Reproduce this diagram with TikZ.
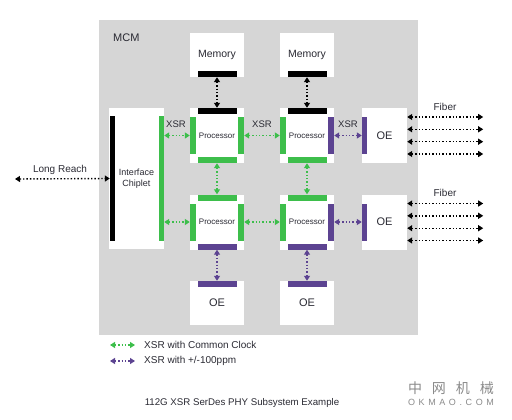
\documentclass[tikz,border=0pt]{standalone}
\usepackage{fontspec}
\setmainfont{Liberation Sans}
\newfontfamily\cjk{Noto Sans CJK SC}
\newfontfamily\wmfont[LetterSpace=40]{Liberation Sans}
\usepackage{tikz}
\usetikzlibrary{arrows.meta, calc, positioning}

\definecolor{xgreen}{HTML}{3DBE4B}
\definecolor{xpurple}{HTML}{5C4391}
\definecolor{mcmgray}{HTML}{D6D6D6}
\definecolor{txt}{HTML}{2A2A33}
\definecolor{wmgray}{HTML}{8A8A8A}

\tikzset{
  blk/.style={fill=white, inner sep=0pt, minimum width=54pt, minimum height=55pt, text=txt},
  hbar/.style={inner sep=0pt, minimum width=39pt, minimum height=6pt},
  vbar/.style={inner sep=0pt, minimum width=6pt, minimum height=37pt},
  link/.style={line width=1.4pt, dash pattern=on 1.4pt off 2pt,
    {Triangle[length=5pt,width=6pt]}-{Triangle[length=5pt,width=6pt]}},
  lbl/.style={text=txt, inner sep=0pt, font=\fontsize{9.5}{11}\selectfont},
}

\begin{document}
\begin{tikzpicture}[x=1pt,y=-1pt]
  \useasboundingbox (0,0) rectangle (512,420);
  %\draw [step=50] (0,0) grid (512,420);
  \fill[mcmgray] (99,20) rectangle (418,335);
  \node[lbl, anchor=west, font=\fontsize{11}{12}\selectfont] (mcm) at (113,38) {MCM};

  % memories
  \node[blk, minimum height=44pt, font=\fontsize{10.5}{12}\selectfont] (mem1) at (217,55) {Memory};
  \node[blk, minimum height=44pt, font=\fontsize{10.5}{12}\selectfont] (mem2) at (307,55) {Memory};
  \node[hbar, fill=black, anchor=south] (mem1b) at (mem1.south) {};
  \node[hbar, fill=black, anchor=south] (mem2b) at (mem2.south) {};

  % processors
  \node[blk, font=\fontsize{8}{9}\selectfont] (p11) at (217,135.5) {Processor};
  \node[blk, font=\fontsize{8}{9}\selectfont] (p12) at (307,135.5) {Processor};
  \node[blk, font=\fontsize{8}{9}\selectfont] (p21) at (217,222) {Processor};
  \node[blk, font=\fontsize{8}{9}\selectfont] (p22) at (307,222) {Processor};
  \foreach \p/\t/\l/\r/\b in {p11/black/xgreen/xgreen/xgreen, p12/black/xgreen/xpurple/xgreen,
                              p21/xgreen/xgreen/xgreen/xpurple, p22/xgreen/xgreen/xpurple/xpurple}{
    \node[hbar, fill=\t, anchor=north] (\p-t) at (\p.north) {};
    \node[hbar, fill=\b, anchor=south] (\p-b) at (\p.south) {};
    \node[vbar, fill=\l, anchor=west] (\p-l) at (\p.west) {};
    \node[vbar, fill=\r, anchor=east] (\p-r) at (\p.east) {};
  }

  % optical engines
  \node[blk, minimum width=45pt, font=\fontsize{11}{12}\selectfont] (oe1) at (384.5,135.5) {OE};
  \node[blk, minimum width=45pt, font=\fontsize{11}{12}\selectfont] (oe2) at (384.5,222) {OE};
  \node[vbar, fill=xpurple, minimum width=5pt, anchor=west] (oe1-l) at (oe1.west) {};
  \node[vbar, fill=xpurple, minimum width=5pt, anchor=west] (oe2-l) at (oe2.west) {};
  \node[blk, minimum height=44pt, font=\fontsize{11}{12}\selectfont] (oeb1) at (217,303) {OE};
  \node[blk, minimum height=44pt, font=\fontsize{11}{12}\selectfont] (oeb2) at (307,303) {OE};
  \node[hbar, fill=xpurple, anchor=north] (oeb1-t) at (oeb1.north) {};
  \node[hbar, fill=xpurple, anchor=north] (oeb2-t) at (oeb2.north) {};

  % interface chiplet
  \node[blk, minimum width=55pt, minimum height=141pt, align=center,
        font=\fontsize{9}{10.5}\selectfont] (ifc) at (136.5,178.5) {Interface\\Chiplet};
  \node[vbar, fill=black, minimum width=4.5pt, minimum height=124pt, anchor=west] (ifc-l) at ($(ifc.west)+(1,0)$) {};
  \node[vbar, fill=xgreen, minimum width=5.5pt, minimum height=124pt, anchor=east] (ifc-r) at (ifc.east) {};

  % links
  \draw[link, black] (mem1b.south) -- (p11-t.north);
  \draw[link, black] (mem2b.south) -- (p12-t.north);
  \draw[link, xgreen] (ifc-r.east |- p11-l) -- (p11-l.west);
  \draw[link, xgreen] (ifc-r.east |- p21-l) -- (p21-l.west);
  \draw[link, xgreen] (p11-r.east) -- (p12-l.west);
  \draw[link, xgreen] (p21-r.east) -- (p22-l.west);
  \draw[link, xgreen] (p11-b.south) -- (p21-t.north);
  \draw[link, xgreen] (p12-b.south) -- (p22-t.north);
  \draw[link, xpurple] (p12-r.east) -- (oe1-l.west);
  \draw[link, xpurple] (p22-r.east) -- (oe2-l.west);
  \draw[link, xpurple] (p21-b.south) -- (oeb1-t.north);
  \draw[link, xpurple] (p22-b.south) -- (oeb2-t.north);

  \coordinate (lr) at (15,179);
  \draw[link, black] (lr) -- (ifc-l.west);
  \node[lbl, font=\fontsize{10}{11}\selectfont] (lrtxt) at (60,170) {Long Reach};

  \node[lbl] (xsr1) at (176,124) {XSR};
  \node[lbl] (xsr2) at (262,124) {XSR};
  \node[lbl] (xsr3) at (348,124) {XSR};

  % fiber
  \foreach \oe/\i in {oe1/1, oe2/2}{
    \foreach \dy [count=\k] in {-18.5,-6.2,6.2,18.5}{
      \coordinate (f\i-\k) at ($(\oe.east)+(76,\dy)$);
      \draw[link, black] (\oe.east |- f\i-\k) -- (f\i-\k);
    }
  }
  \node[lbl, font=\fontsize{10}{11}\selectfont] (fib1) at (445,107) {Fiber};
  \node[lbl, font=\fontsize{10}{11}\selectfont] (fib2) at (445,193) {Fiber};

  % legend
  \coordinate (lg1a) at (110,345); \coordinate (lg1b) at (135,345);
  \coordinate (lg2a) at (110,361); \coordinate (lg2b) at (135,361);
  \draw[link, xgreen, line width=1.2pt] (lg1a) -- (lg1b);
  \draw[link, xpurple, line width=1.2pt] (lg2a) -- (lg2b);
  \node[lbl, anchor=west, font=\fontsize{10}{11}\selectfont] (lg1) at (144,345) {XSR with Common Clock};
  \node[lbl, anchor=west, font=\fontsize{10}{11}\selectfont] (lg2) at (144,361) {XSR with +/-100ppm};

  \node[lbl, font=\fontsize{9.7}{11}\selectfont] (cap) at (242,403) {112G XSR SerDes PHY Subsystem Example};

  % watermark
  \node[text=wmgray, inner sep=0pt, font=\cjk\fontsize{14}{15}\selectfont] (wm1) at (451,388)
    {中\hspace{10pt}网\hspace{10pt}机\hspace{10pt}械};
  \node[text=wmgray, inner sep=0pt, font=\wmfont\fontsize{9}{10}\selectfont] (wm2) at (451,402) {OKMAO.COM};
\end{tikzpicture}
\end{document}
